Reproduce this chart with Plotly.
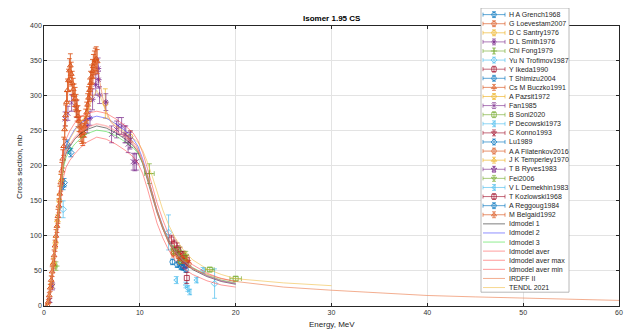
import plotly.graph_objects as go

# ---------------- experimental data (E in MeV, sigma in mb) ----------------
grench_E = [14.1, 14.4]
grench_s = [62, 58]
grench_err = [5, 5]

loevestam_E = [13.5, 14.0, 14.4, 14.8, 15.1]
loevestam_s = [78, 73, 69, 64, 60]
loevestam_err = [5, 5, 5, 5, 5]

santry_E = [0.8, 1.2, 1.6, 6.4, 9.0]
santry_s = [30, 90, 150, 289, 242]
santry_err = [4, 8, 10, 21, 8]

smith_E = [4.5, 4.8, 5.07, 5.4, 5.66, 5.7, 5.8, 6.46]
smith_s = [257, 268, 295, 316, 339, 323, 301, 291]
smith_err = [10, 10, 15, 15, 15, 12, 12, 12]

fong_E = [1.25, 11.0]
fong_s = [57, 189]
fong_err = [6, 14]
fong_xerr = [0.12, 0.5]

trofimov_E = [2.0, 13.0, 17.8]
trofimov_s = [138, 105, 32]
trofimov_err = [12, 25, 21]

ikeda_E = [13.3, 13.6, 14.0, 14.5, 14.9]
ikeda_s = [95, 88, 80, 72, 66]
ikeda_err = [6, 6, 6, 6, 6]

shimizu_E = [13.4, 13.9, 14.3, 14.8]
shimizu_s = [63, 59, 56, 52]
shimizu_err = [4, 4, 4, 4]

buczko_E = [14.7]
buczko_s = [65]
buczko_err = [4]

pazsit_E = [14.7]
pazsit_s = [70]
pazsit_err = [6]

fan_E = [0.6, 0.9, 2.19, 2.5, 2.88, 3.4, 7.05, 7.57, 7.74, 8.1, 8.44, 8.54, 8.78, 8.96, 9.03, 9.3, 9.48, 9.65]
fan_s = [8, 28, 267, 275, 290, 281, 245, 252, 257, 257, 245, 245, 231, 236, 238, 206, 205, 206]
fan_err = [3, 5, 10, 10, 12, 12, 12, 12, 12, 12, 12, 12, 12, 12, 12, 12, 12, 12]

soni_E = [14.3, 17.3, 20.0]
soni_s = [64, 52, 39]
soni_err = [4, 3, 3]
soni_xerr = [0.3, 0.45, 0.6]

decowski_E = [14.8, 15.0, 15.2, 15.9, 16.6]
decowski_s = [30, 25, 20, 37, 51]
decowski_err = [4, 4, 4, 4, 4]

konno_E = [13.9, 14.2, 14.6]
konno_s = [82, 76, 70]
konno_err = [8, 8, 8]

lu_E = [2.0, 2.1, 2.4, 2.6, 2.8]
lu_s = [172, 176, 231, 224, 219]
lu_err = [6, 6, 6, 6, 6]

filatenkov_E = [13.5, 14.1, 14.6, 14.9]
filatenkov_s = [75, 70, 66, 62]
filatenkov_err = [5, 5, 5, 5]

temperley_E = [1.0, 1.4, 1.8]
temperley_s = [62, 122, 180]
temperley_err = [6, 8, 8]

ryves_E = [14.7]
ryves_s = [57]
ryves_err = [4]

fei_E = [13.5, 14.1, 14.8]
fei_s = [80, 78, 72]
fei_err = [6, 6, 6]

demekhin_E = [13.8]
demekhin_s = [37]
demekhin_err = [5]

kozlowski_E = [14.9]
kozlowski_s = [40]
kozlowski_err = [8]

reggoug_E = [14.5]
reggoug_s = [55]
reggoug_err = [4]

belgaid_E = [0.35, 0.45, 0.55, 0.65, 0.75, 0.85, 0.95, 1.05, 1.15, 1.25, 1.35, 1.45, 1.55, 1.65,
             1.75, 1.85, 1.95, 2.05, 2.15, 2.25, 2.35, 2.45, 2.55, 2.65, 2.75, 2.85, 2.95, 3.05,
             3.15, 3.25, 3.35, 3.45, 3.55, 3.65, 3.75, 3.85, 3.95, 4.05, 4.15, 4.25, 4.35, 4.45,
             4.55, 4.65, 4.75, 4.85, 4.95, 5.05, 5.15, 5.25, 5.35, 5.45, 5.55]
belgaid_s = [1, 6, 15, 26, 37, 49, 60, 72, 86, 100, 114, 128, 143, 160,
             176, 193, 210, 228, 252, 272, 291, 308, 322, 336, 343, 331, 318, 309,
             301, 296, 286, 279, 271, 264, 256, 250, 246, 243, 247, 256, 266, 276,
             287, 297, 308, 318, 327, 335, 342, 347, 351, 353, 349]
belgaid_err = [2, 3, 4, 5, 6, 7, 7, 8, 8, 9, 9, 10, 10, 11,
               12, 12, 13, 13, 14, 15, 15, 16, 16, 17, 17, 17, 17, 16,
               16, 16, 16, 15, 15, 15, 15, 15, 14, 14, 14, 15, 15, 15,
               16, 16, 16, 17, 17, 17, 17, 17, 17, 17, 17]

# ---------------- model curves ----------------
model_E = [0.3, 0.5, 0.8, 1.1, 1.4, 1.7, 2.0, 2.3, 2.7, 3.2, 3.8, 4.5, 5.5, 6.5, 7.5,
           8.5, 9.3, 9.8, 10.3, 10.8, 11.3, 11.8, 12.4, 13.0, 13.7, 14.5, 15.5, 17.0, 18.5, 20.0]
idm1 = [0, 8, 35, 72, 112, 155, 200, 218, 228, 238, 246, 252, 257, 254, 247,
        238, 229, 220, 203, 181, 156, 133, 110, 91, 75, 63, 52, 42, 35, 31]
idm2 = [0, 9, 37, 75, 118, 163, 208, 228, 240, 252, 261, 267, 271, 268, 260,
        250, 239, 228, 210, 186, 161, 137, 114, 94, 78, 65, 54, 43, 36, 32]
idm3 = [0, 8, 34, 70, 110, 152, 196, 212, 222, 231, 239, 246, 251, 249, 243,
        234, 226, 218, 204, 183, 159, 136, 113, 94, 78, 66, 55, 44, 37, 33]
idm_aver = [0, 8, 35, 72, 113, 157, 201, 219, 230, 240, 249, 255, 260, 257, 250,
            241, 231, 222, 206, 184, 158, 135, 112, 93, 77, 65, 54, 43, 36, 32]
idm_max = [0, 10, 40, 80, 125, 172, 220, 238, 250, 261, 270, 275, 278, 275, 267,
           257, 247, 236, 219, 196, 170, 147, 123, 102, 85, 71, 59, 47, 39, 35]
idm_min = [0, 7, 31, 64, 101, 141, 182, 198, 208, 217, 226, 234, 241, 238, 231,
           222, 213, 204, 189, 167, 141, 118, 97, 80, 65, 54, 45, 36, 30, 27]

irdff_E = [0.35, 0.6, 1.0, 1.5, 2.0, 2.4, 2.7, 3.0, 3.5, 4.1, 4.6, 5.1, 5.5, 5.8, 6.3,
           7.0, 8.0, 9.0, 9.6, 10.0, 10.5, 11.0, 11.5, 12.0, 12.5, 13.0, 13.5, 14.0, 14.5, 15.0,
           16.0, 17.0, 18.0, 20.0, 25.0, 30.0, 35.0, 40.0, 45.0, 50.0, 55.0, 60.0]
irdff_s = [0, 25, 70, 140, 205, 290, 340, 322, 288, 246, 276, 320, 350, 322, 285,
           262, 250, 238, 230, 217, 198, 175, 150, 127, 107, 90, 78, 69, 62, 57,
           50, 45, 41, 35, 27, 22.5, 18.5, 15, 13, 11, 9.5, 8]

tendl_E = [0.3, 0.5, 0.8, 1.1, 1.4, 1.7, 2.0, 2.3, 2.7, 3.2, 3.8, 4.5, 5.0, 5.5, 6.0, 6.7,
           7.5, 8.5, 9.3, 9.8, 10.3, 10.8, 11.3, 11.8, 12.4, 13.0, 13.7, 14.5, 15.5, 17.0,
           18.5, 20.0, 25.0, 30.0]
tendl_s = [0, 9, 38, 76, 118, 162, 205, 225, 238, 250, 262, 275, 295, 308, 295, 268,
           258, 248, 240, 234, 222, 205, 185, 162, 137, 116, 97, 81, 66, 53,
           45, 39, 33, 29]

# ---------------- styling ----------------
C = {
    'blue': (0, 114, 189), 'orange': (217, 83, 25), 'yellow': (237, 177, 32),
    'purple': (126, 47, 142), 'green': (119, 172, 48), 'lblue': (77, 190, 238),
    'dred': (162, 20, 47),
}


def rgba(c, a):
    return 'rgba(%d,%d,%d,%.2f)' % (c[0], c[1], c[2], a)


series = [
    ('H A Grench1968', grench_E, grench_s, grench_err, None, 'blue', 'circle-open'),
    ('G Loevestam2007', loevestam_E, loevestam_s, loevestam_err, None, 'orange', 'circle-open'),
    ('D C Santry1976', santry_E, santry_s, santry_err, None, 'yellow', 'circle-open'),
    ('D L Smith1976', smith_E, smith_s, smith_err, None, 'purple', 'asterisk-open'),
    ('Chi Fong1979', fong_E, fong_s, fong_err, fong_xerr, 'green', 'cross-thin-open'),
    ('Yu N Trofimov1987', trofimov_E, trofimov_s, trofimov_err, None, 'lblue', 'diamond-open'),
    ('Y Ikeda1990', ikeda_E, ikeda_s, ikeda_err, None, 'dred', 'square-open'),
    ('T Shimizu2004', shimizu_E, shimizu_s, shimizu_err, None, 'blue', 'circle-open'),
    ('Cs M Buczko1991', buczko_E, buczko_s, buczko_err, None, 'orange', 'triangle-up-open'),
    ('A Pazsit1972', pazsit_E, pazsit_s, pazsit_err, None, 'yellow', 'circle-open'),
    ('Fan1985', fan_E, fan_s, fan_err, None, 'purple', 'x-thin-open'),
    ('B Soni2020', soni_E, soni_s, soni_err, soni_xerr, 'green', 'square-open'),
    ('P Decowski1973', decowski_E, decowski_s, decowski_err, None, 'lblue', 'triangle-left-open'),
    ('C Konno1993', konno_E, konno_s, konno_err, None, 'dred', 'triangle-down-open'),
    ('Lu1989', lu_E, lu_s, lu_err, None, 'blue', 'diamond-open'),
    ('A A Filatenkov2016', filatenkov_E, filatenkov_s, filatenkov_err, None, 'orange', 'circle-open'),
    ('J K Temperley1970', temperley_E, temperley_s, temperley_err, None, 'yellow', 'triangle-up-open'),
    ('T B Ryves1983', ryves_E, ryves_s, ryves_err, None, 'purple', 'star-open'),
    ('Fei2006', fei_E, fei_s, fei_err, None, 'green', 'triangle-down-open'),
    ('V L Demekhin1983', demekhin_E, demekhin_s, demekhin_err, None, 'lblue', 'triangle-left-open'),
    ('T Kozlowski1968', kozlowski_E, kozlowski_s, kozlowski_err, None, 'dred', 'square-open'),
    ('A Reggoug1984', reggoug_E, reggoug_s, reggoug_err, None, 'blue', 'circle-open'),
    ('M Belgaid1992', belgaid_E, belgaid_s, belgaid_err, None, 'orange', 'triangle-up-open'),
]

lines = [
    ('Idmodel 1', model_E, idm1, 'rgba(40,40,40,0.75)', 0.8),
    ('Idmodel 2', model_E, idm2, 'rgba(40,40,255,0.65)', 0.8),
    ('Idmodel 3', model_E, idm3, 'rgba(40,220,40,0.65)', 0.8),
    ('Idmodel aver', model_E, idm_aver, 'rgba(255,120,120,0.45)', 1.6),
    ('Idmodel aver max', model_E, idm_max, 'rgba(255,40,40,0.6)', 0.8),
    ('Idmodel aver min', model_E, idm_min, 'rgba(255,40,40,0.6)', 0.8),
    ('IRDFF II', irdff_E, irdff_s, 'rgba(235,120,70,0.6)', 1.0),
    ('TENDL 2021', tendl_E, tendl_s, 'rgba(240,190,70,0.6)', 1.0),
]

fig = go.Figure()

for name, E, s, err, xerr, col, sym in series:
    c = C[col]
    a = 0.95 if name == 'M Belgaid1992' else 0.8
    tr = dict(x=E, y=s, mode='markers', name=name, showlegend=False,
              marker=dict(symbol=sym, size=5, color=rgba(c, a), line=dict(width=1.0, color=rgba(c, a))),
              error_y=dict(type='data', array=err, color=rgba(c, a - 0.1), thickness=1.0, width=2.4))
    if xerr is not None:
        tr['error_x'] = dict(type='data', array=xerr, color=rgba(c, a - 0.1), thickness=1.0, width=2.4)
    fig.add_trace(go.Scatter(**tr))

for name, E, s, col, w in lines:
    fig.add_trace(go.Scatter(x=E, y=s, mode='lines', name=name, showlegend=False,
                             line=dict(color=col, width=w)))

# ---------------- custom legend (drawn on a pixel-mapped helper axis) ----------------
LX0, LX1, LY0, LY1 = 481, 569, 4, 292
fig.add_trace(go.Scatter(x=[LX0, LX1, LX1, LX0, LX0], y=[LY0, LY0, LY1, LY1, LY0],
                         xaxis='x2', yaxis='y2', mode='lines', fill='toself',
                         fillcolor='white', line=dict(color='#a6a6a6', width=0.8),
                         showlegend=False, hoverinfo='skip'))

row0, dy = 10.7, 9.22
annotations = []
for i, (name, E, s, err, xerr, col, sym) in enumerate(series):
    yc = row0 + i * dy
    c = C[col]
    fig.add_trace(go.Scatter(x=[494], y=[yc], xaxis='x2', yaxis='y2', mode='markers',
                             marker=dict(symbol=sym, size=4.5, color=rgba(c, 0.8), line=dict(width=0.9, color=rgba(c, 0.8))),
                             error_x=dict(type='constant', value=11, color=rgba(c, 0.7), thickness=0.9, width=2),
                             error_y=dict(type='constant', value=3, color=rgba(c, 0.7), thickness=0.9, width=2),
                             showlegend=False, hoverinfo='skip'))
    annotations.append(dict(x=507, y=yc, xref='x2', yref='y2', text=name, showarrow=False,
                            xanchor='left', yanchor='middle', font=dict(size=7, color='#262626')))
for j, (name, E, s, col, w) in enumerate(lines):
    yc = row0 + (len(series) + j) * dy
    fig.add_trace(go.Scatter(x=[483, 505], y=[yc, yc], xaxis='x2', yaxis='y2', mode='lines',
                             line=dict(color=col, width=w), showlegend=False, hoverinfo='skip'))
    annotations.append(dict(x=507, y=yc, xref='x2', yref='y2', text=name, showarrow=False,
                            xanchor='left', yanchor='middle', font=dict(size=7, color='#262626')))

# titles
H = 302.0
annotations.append(dict(x=0.5, y=(306 - 15) / H, xref='paper', yref='paper', text='<b>Isomer 1.95 CS</b>',
                        showarrow=False, xanchor='center', yanchor='middle', font=dict(size=8, color='#000000')))
annotations.append(dict(x=0.5, y=(306 - 325) / H, xref='paper', yref='paper', text='Energy, MeV',
                        showarrow=False, xanchor='center', yanchor='middle', font=dict(size=8, color='#262626')))
annotations.append(dict(x=(20 - 44) / 575.0, y=(306 - 164) / H, xref='paper', yref='paper', text='Cross section, mb',
                        showarrow=False, xanchor='center', yanchor='middle', textangle=-90,
                        font=dict(size=8, color='#262626')))

axis_common = dict(showline=True, linecolor='#262626', linewidth=0.6, mirror='ticks', ticks='inside',
                   ticklen=3, tickcolor='#262626', tickwidth=0.6, showgrid=True, gridcolor='#e3e3e3',
                   gridwidth=0.6, zeroline=False, tickfont=dict(size=7, color='#333333',
                                                                family='Liberation Sans, Arial, sans-serif'))

fig.update_layout(
    width=634, height=334,
    margin=dict(l=44, r=15, t=4, b=28),
    paper_bgcolor='white', plot_bgcolor='rgba(0,0,0,0)',
    font=dict(family='Liberation Sans, Arial, sans-serif'),
    xaxis=dict(range=[0, 60], tickvals=[0, 10, 20, 30, 40, 50, 60], domain=[0, 1], anchor='y', **axis_common),
    yaxis=dict(range=[0, 400], tickvals=[0, 50, 100, 150, 200, 250, 300, 350, 400],
               domain=[0, (306 - 22) / H], anchor='x', **axis_common),
    xaxis2=dict(range=[44, 619], domain=[0, 1], anchor='y2', visible=False, fixedrange=True),
    yaxis2=dict(range=[306, 4], domain=[0, 1], anchor='x2', visible=False, fixedrange=True),
    annotations=annotations,
    showlegend=False,
)

fig.write_html('out.html', config={'displayModeBar': False},
               post_script="document.body.style.margin='0px';")
